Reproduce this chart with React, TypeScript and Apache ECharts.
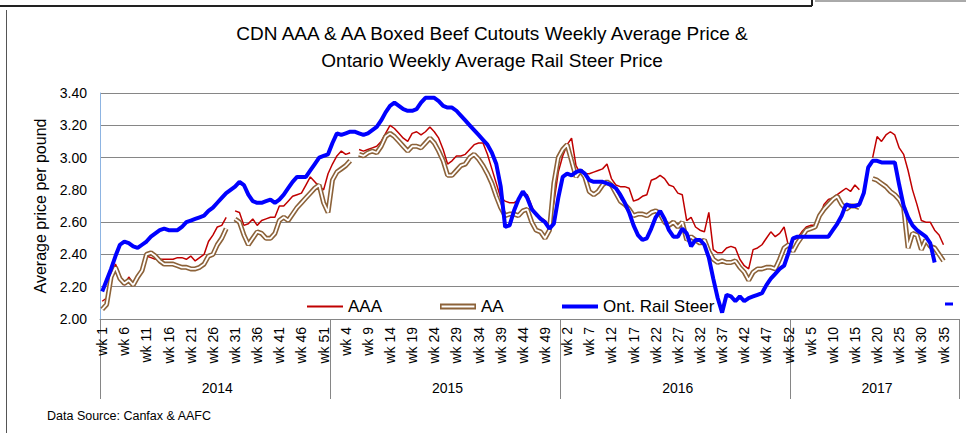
import React, { useEffect, useRef } from "react";
import * as echarts from "echarts";

const years = ["2014", "2015", "2016", "2017"];
const weeksPerYear = [52, 52, 52, 38];

// CDN AAA boxed beef cutout, weekly average ($/lb)
const aaa = [
  2.11, 2.13, 2.26, 2.34, 2.27, 2.21, 2.26, 2.22, 2.27, 2.31,
  2.39, 2.38, 2.37, 2.37, 2.37, 2.37, 2.37, 2.38, 2.38, 2.37,
  2.39, 2.36, 2.38, 2.40, 2.48, 2.52, 2.57, 2.58, 2.63, null,
  2.67, 2.66, 2.58, 2.59, 2.62, 2.58, 2.61, 2.62, 2.63, 2.63,
  2.70, 2.70, 2.73, 2.76, 2.77, 2.78, 2.83, 2.88, 2.85, 2.82,
  2.80, 2.90, 2.96, 3.01, 3.04, 3.02, 3.03, null, 3.05, 3.04,
  3.05, 3.06, 3.07, 3.10, 3.15, 3.20, 3.18, 3.15, 3.12, 3.10,
  3.15, 3.16, 3.14, 3.16, 3.19, 3.16, 3.12, 3.05, 2.96, 2.98,
  3.01, 3.01, 3.02, 3.05, 3.08, 3.09, 3.09, 3.02, 2.93, 2.84,
  2.75, 2.73, 2.72, 2.72, 2.74, 2.78, 2.77, 2.70, 2.64, 2.63,
  2.61, 2.58, 2.72, 2.91, 3.01, 3.08, 3.12, 2.95, 2.90, 2.90,
  2.90, 2.91, 2.92, 2.93, 2.96, 2.87, 2.83, 2.82, 2.82, 2.81,
  2.73, 2.74, 2.76, 2.77, 2.86, 2.87, 2.89, 2.87, 2.83, 2.82,
  2.78, 2.77, 2.61, 2.63, 2.57, 2.55, 2.54, 2.66, 2.43, 2.41,
  2.41, 2.44, 2.45, 2.44, 2.37, 2.33, 2.31, 2.43, 2.44, 2.46,
  2.50, 2.54, 2.51, 2.53, 2.57, 2.45, 2.49, 2.50, 2.54, 2.57,
  2.58, 2.58, 2.63, 2.71, 2.74, 2.75, 2.77, 2.79, 2.81, 2.79,
  2.83, 2.80, null, null, 3.00, 3.13, 3.10, 3.14, 3.16, 3.14,
  3.06, 3.02, 2.92, 2.80, 2.71, 2.61, 2.60, 2.60, 2.55, 2.52,
  2.46, null, null, null,
];

// CDN AA boxed beef cutout, weekly average ($/lb)
const aa = [
  2.06, 2.09, 2.26, 2.32, 2.25, 2.22, 2.24, 2.21, 2.26, 2.30,
  2.40, 2.41, 2.39, 2.36, 2.34, 2.34, 2.34, 2.33, 2.32, 2.32,
  2.31, 2.31, 2.32, 2.34, 2.39, 2.40, 2.46, 2.50, 2.56, null,
  2.62, 2.60, 2.52, 2.46, 2.50, 2.54, 2.53, 2.50, 2.50, 2.53,
  2.61, 2.63, 2.61, 2.65, 2.69, 2.72, 2.75, 2.78, 2.81, 2.83,
  2.72, 2.66, 2.86, 2.91, 2.93, 2.95, 2.98, null, 3.02, 3.01,
  3.03, 3.04, 3.03, 3.07, 3.13, 3.15, 3.13, 3.10, 3.07, 3.04,
  3.07, 3.07, 3.06, 3.09, 3.12, 3.09, 3.04, 2.98, 2.89, 2.89,
  2.92, 2.95, 2.96, 3.00, 3.02, 2.99, 2.95, 2.90, 2.84, 2.76,
  2.69, 2.64, 2.65, 2.65, 2.64, 2.67, 2.68, 2.60, 2.55, 2.54,
  2.50, 2.55, 2.84, 3.00, 3.05, 3.08, 2.98, 2.88, 2.92, 2.88,
  2.79, 2.77, 2.79, 2.83, 2.85, 2.83, 2.78, 2.73, 2.71, 2.68,
  2.64, 2.65, 2.65, 2.64, 2.66, 2.67, 2.65, 2.60, 2.58, 2.60,
  2.57, 2.60, 2.49, 2.51, 2.49, 2.47, 2.49, 2.42, 2.37, 2.35,
  2.36, 2.35, 2.35, 2.36, 2.32, 2.29, 2.24, 2.29, 2.31, 2.31,
  2.32, 2.32, 2.31, 2.37, 2.44, 2.46, 2.42, 2.47, 2.51, 2.55,
  2.56, 2.57, 2.64, 2.68, 2.71, 2.74, 2.76, 2.71, 2.68, 2.70,
  2.70, 2.69, null, null, 2.87, 2.86, 2.84, 2.82, 2.79, 2.77,
  2.74, 2.69, 2.44, 2.53, 2.52, 2.43, 2.49, 2.45, 2.44, 2.40,
  2.36, null, null, null,
];

// Ontario weekly average rail steer price ($/lb)
const railSteer = [
  2.17, 2.24, 2.31, 2.39, 2.46, 2.48, 2.47, 2.45, 2.44, 2.46,
  2.48, 2.51, 2.53, 2.55, 2.56, 2.55, 2.55, 2.55, 2.57, 2.60,
  2.61, 2.62, 2.63, 2.64, 2.67, 2.69, 2.72, 2.75, 2.78, 2.80,
  2.82, 2.85, 2.83, 2.77, 2.73, 2.72, 2.72, 2.73, 2.74, 2.72,
  2.74, 2.77, 2.81, 2.85, 2.88, 2.88, 2.88, 2.92, 2.96, 3.00,
  3.01, 3.02, 3.09, 3.15, 3.14, 3.15, 3.16, 3.16, 3.15, 3.14,
  3.15, 3.17, 3.19, 3.23, 3.28, 3.32, 3.34, 3.32, 3.30, 3.29,
  3.29, 3.30, 3.34, 3.37, 3.37, 3.37, 3.35, 3.32, 3.31, 3.31,
  3.29, 3.26, 3.23, 3.20, 3.17, 3.14, 3.11, 3.08, 3.03, 2.96,
  2.82, 2.57, 2.58, 2.67, 2.74, 2.79, 2.75, 2.68, 2.65, 2.62,
  2.60, 2.56, 2.59, 2.75, 2.88, 2.90, 2.89, 2.91, 2.92, 2.90,
  2.86, 2.85, 2.85, 2.85, 2.84, 2.83, 2.81, 2.77, 2.72, 2.66,
  2.58, 2.52, 2.49, 2.50, 2.56, 2.63, 2.67, 2.62, 2.55, 2.51,
  2.51, 2.56, 2.53, 2.45, 2.49, 2.49, 2.46, 2.38, 2.25, 2.13,
  2.04, 2.15, 2.14, 2.11, 2.14, 2.11, 2.13, 2.14, 2.15, 2.16,
  2.21, 2.25, 2.28, 2.31, 2.33, 2.41, 2.50, 2.51, 2.51, 2.51,
  2.51, 2.51, 2.51, 2.51, 2.51, 2.55, 2.59, 2.64, 2.71, 2.70,
  2.70, 2.71, 2.78, 2.94, 2.98, 2.98, 2.97, 2.97, 2.97, 2.97,
  2.83, 2.70, 2.63, 2.58, 2.55, 2.53, 2.51, 2.47, 2.35, null,
  null, null, null, null,
];

const titleLines = [
  "CDN AAA & AA Boxed Beef Cutouts Weekly Average Price &",
  "Ontario Weekly Average Rail Steer Price",
];
const yAxisTitle = "Average price per pound";
const sourceNote = "Data Source: Canfax & AAFC";

const FONT = '"Liberation Sans", Arial, sans-serif';

export default function App() {
  const ref = useRef<HTMLDivElement>(null);

  useEffect(() => {
    if (!ref.current) return;
    const chart = echarts.init(ref.current, null, { renderer: "svg" });

    const categories: string[] = [];
    const yearStart: number[] = [];
    const yearMid: number[] = [];
    years.forEach((y, k) => {
      yearStart.push(categories.length);
      yearMid.push(categories.length + Math.floor(weeksPerYear[k] / 2));
      for (let w = 1; w <= weeksPerYear[k]; w++) categories.push(y + "|wk " + w);
    });

    const gridColor = "#868686";
    const splitColors = [gridColor, gridColor, gridColor, gridColor, "rgba(0,0,0,0)", gridColor, gridColor, gridColor];

    const option: any = {
      animation: false,
      backgroundColor: "#ffffff",
      textStyle: { fontFamily: FONT },
      grid: { left: 100, right: 7, top: 93, bottom: 114, containLabel: false },
      legend: [
        {
          data: [{ name: "AAA", icon: "rect", itemStyle: { color: "#C00000" } }],
          left: 307, top: 298, itemWidth: 36, itemHeight: 2, padding: 0, selectedMode: false,
          textStyle: { fontSize: 17, color: "#000", fontFamily: FONT },
        },
        {
          data: [{ name: "AA", icon: "path://M0,0H36V6H0Z M1.6,2.1V3.9H34.4V2.1Z", itemStyle: { color: "#8C6239" } }],
          left: 440, top: 298, itemWidth: 36, itemHeight: 6, padding: 0, selectedMode: false,
          textStyle: { fontSize: 17, color: "#000", fontFamily: FONT },
        },
        {
          data: [{ name: "Ont. Rail Steer", icon: "rect", itemStyle: { color: "#0000FF" } }],
          left: 562, top: 298, itemWidth: 36, itemHeight: 4, padding: 0, selectedMode: false,
          textStyle: { fontSize: 17, color: "#000", fontFamily: FONT },
        },
      ],
      xAxis: [
        {
          type: "category",
          data: categories,
          boundaryGap: true,
          position: "bottom",
          axisLine: { show: true, lineStyle: { color: gridColor, width: 1 } },
          axisTick: { show: false },
          splitLine: { show: false },
          axisLabel: {
            interval: 4,
            rotate: 90,
            margin: 8,
            fontSize: 14,
            color: "#000",
            fontFamily: FONT,
            formatter: (v: string) => v.split("|")[1],
          },
        },
        {
          type: "category",
          data: categories,
          boundaryGap: true,
          position: "bottom",
          offset: 0,
          axisLine: { show: false },
          axisTick: {
            show: true,
            length: 80,
            interval: (idx: number) => yearStart.indexOf(idx) >= 0,
            lineStyle: { color: gridColor, width: 1 },
          },
          splitLine: { show: false },
          axisLabel: {
            interval: (idx: number) => yearMid.indexOf(idx) >= 0,
            margin: 62,
            fontSize: 14,
            color: "#000",
            fontFamily: FONT,
            formatter: (v: string) => v.split("|")[0],
          },
        },
      ],
      yAxis: {
        type: "value",
        min: 2,
        max: 3.4,
        interval: 0.2,
        axisLine: { show: true, lineStyle: { color: "#8DB4E2", width: 1 } },
        axisTick: { show: false },
        axisLabel: {
          margin: 13,
          fontSize: 14,
          color: "#000",
          fontFamily: FONT,
          formatter: (v: number) => v.toFixed(2),
        },
        splitLine: { show: true, lineStyle: { color: splitColors, width: 1 } },
      },
      series: [
        {
          name: "AAA",
          type: "line",
          data: aaa,
          color: "#C00000",
          showSymbol: false,
          symbol: "none",
          lineStyle: { width: 1.5, color: "#C00000" },
          z: 2,
        },
        {
          name: "AA",
          type: "line",
          data: aa,
          color: "#8C6239",
          showSymbol: false,
          symbol: "none",
          lineStyle: { width: 5, color: "#8C6239" },
          z: 3,
        },
        {
          name: "AA inner",
          type: "line",
          data: aa,
          color: "#ffffff",
          showSymbol: false,
          symbol: "none",
          lineStyle: { width: 1.8, color: "#ffffff" },
          z: 4,
        },
        {
          name: "Ont. Rail Steer",
          type: "line",
          data: railSteer,
          color: "#0000FF",
          showSymbol: false,
          symbol: "none",
          lineStyle: { width: 4, color: "#0000FF" },
          z: 5,
        },
      ],
      graphic: [
        { type: "text", x: 492, y: 33, style: { text: titleLines[0], font: "19px " + FONT, fill: "#000", align: "center", verticalAlign: "middle" } },
        { type: "text", x: 492, y: 60, style: { text: titleLines[1], font: "19px " + FONT, fill: "#000", align: "center", verticalAlign: "middle" } },
        { type: "text", x: 40, y: 206, rotation: Math.PI / 2, style: { text: yAxisTitle, font: "16px " + FONT, fill: "#000", align: "center", verticalAlign: "middle" } },
        { type: "text", x: 47, y: 416, style: { text: sourceNote, font: "12.5px " + FONT, fill: "#000", align: "left", verticalAlign: "middle" } },
        { type: "rect", shape: { x: 945, y: 302.5, width: 8, height: 3 }, style: { fill: "#0000FF" } },
        { type: "line", shape: { x1: 0, y1: 6, x2: 812, y2: 6 }, style: { stroke: "#222", lineWidth: 2 } },
        { type: "line", shape: { x1: 812, y1: 0, x2: 812, y2: 6 }, style: { stroke: "#222", lineWidth: 2 } },
        { type: "line", shape: { x1: 815, y1: 1, x2: 966, y2: 1 }, style: { stroke: "#555", lineWidth: 1 } },
        { type: "line", shape: { x1: 6.5, y1: 10, x2: 6.5, y2: 433 }, style: { stroke: "#555", lineWidth: 1 } },
      ],
    };

    chart.setOption(option);
    return () => chart.dispose();
  }, []);

  return (
    <div
      ref={ref}
      style={{ position: "absolute", left: 0, top: 0, width: 966, height: 433, background: "#fff" }}
    />
  );
}
